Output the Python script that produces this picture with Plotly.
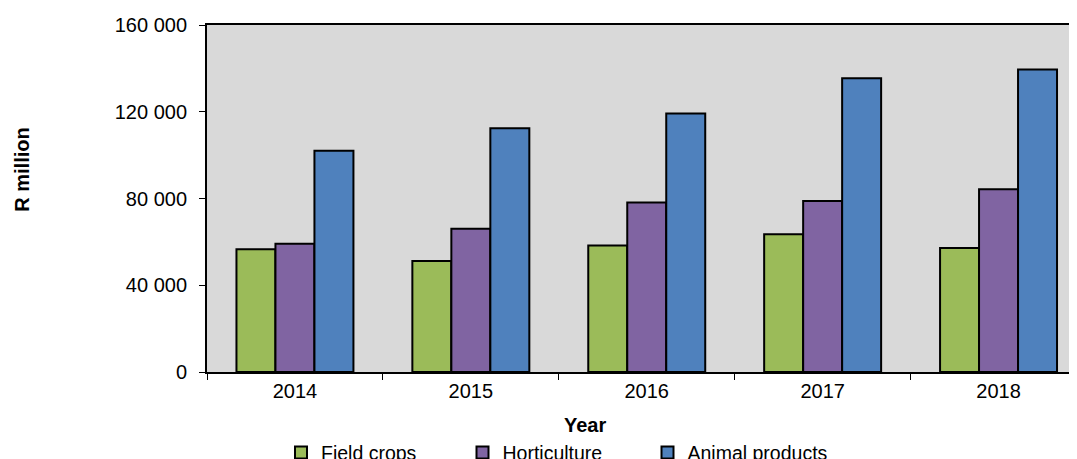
import plotly.graph_objects as go

years = ["2014", "2015", "2016", "2017", "2018"]
field_crops = [56600, 51200, 58300, 63500, 57200]
horticulture = [59100, 66000, 78200, 78900, 84300]
animal_products = [102000, 112400, 119200, 135400, 139500]

y_tickvals = [0, 40000, 80000, 120000, 160000]
y_ticktext = ["0", "40 000", "80 000", "120 000", "160 000"]

series_names = ["Field crops", "Horticulture", "Animal products"]
series_colors = ["#9BBB59", "#8064A2", "#4F81BD"]
series_values = [field_crops, horticulture, animal_products]

OFF = 8  # page body margin
W, H = 1077 - OFF, 459 - OFF
L = 206.5 - OFF
T = 25 - OFF
BOTTOM = 371.7 - OFF
B = H - BOTTOM
plot_w = W - L
plot_h = BOTTOM - T

FONT = "Liberation Sans, Arial, sans-serif"

fig = go.Figure()
legend_names = ["legend", "legend2", "legend3"]
for name, col, vals, lg in zip(series_names, series_colors, series_values, legend_names):
    fig.add_trace(go.Bar(
        x=years, y=vals, name=name,
        marker=dict(color=col, line=dict(color="black", width=2)),
        legend=lg,
    ))

# legend symbol centers (page px) for each item
legend_px = [301, 482.5, 667.5]
legend_cfg = {}
for lg, px in zip(legend_names, legend_px):
    legend_cfg[lg] = dict(
        x=(px - OFF - 20) / W, xref="container", xanchor="left",
        y=1 - (452.7 - OFF) / H, yref="container", yanchor="middle",
        orientation="h", bgcolor="rgba(0,0,0,0)",
        font=dict(family=FONT, size=19.5, color="black"),
        borderwidth=0,
    )

fig.update_layout(
    width=W, height=H,
    margin=dict(l=L, r=0, t=T, b=B, pad=0),
    paper_bgcolor="white",
    plot_bgcolor="#D9D9D9",
    barmode="group",
    bargap=0.335,
    bargroupgap=0,
    font=dict(family=FONT, size=20, color="black"),
    showlegend=True,
    **legend_cfg,
    xaxis=dict(
        type="category",
        range=[-0.5, -0.5 + plot_w / 176.0],
        tickson="boundaries",
        ticks="outside", ticklen=6, tickcolor="black", tickwidth=1,
        showline=True, linecolor="black", linewidth=2, mirror=True,
        showgrid=False, zeroline=False,
        tickfont=dict(family=FONT, size=20, color="black"),
    ),
    yaxis=dict(
        range=[0, 160000],
        tickmode="array", tickvals=y_tickvals, ticktext=y_ticktext,
        ticks="outside", ticklen=6, tickcolor="black", tickwidth=1,
        showline=True, linecolor="black", linewidth=2,
        showgrid=False, zeroline=False,
        ticklabelstandoff=8,
        tickfont=dict(family=FONT, size=20, color="black"),
    ),
    annotations=[
        dict(text="<b>Year</b>", xref="paper", yref="paper",
             x=(584.5 - OFF - L) / plot_w, y=(BOTTOM - (425 - OFF)) / plot_h,
             xanchor="center", yanchor="middle", showarrow=False,
             font=dict(family=FONT, size=20, color="black")),
        dict(text="<b>R million</b>", xref="paper", yref="paper",
             x=(22 - OFF - L) / plot_w, y=(BOTTOM - (170 - OFF)) / plot_h,
             xanchor="center", yanchor="middle", showarrow=False, textangle=-90,
             font=dict(family=FONT, size=20, color="black")),
    ],
)

fig.write_html("out.html")
